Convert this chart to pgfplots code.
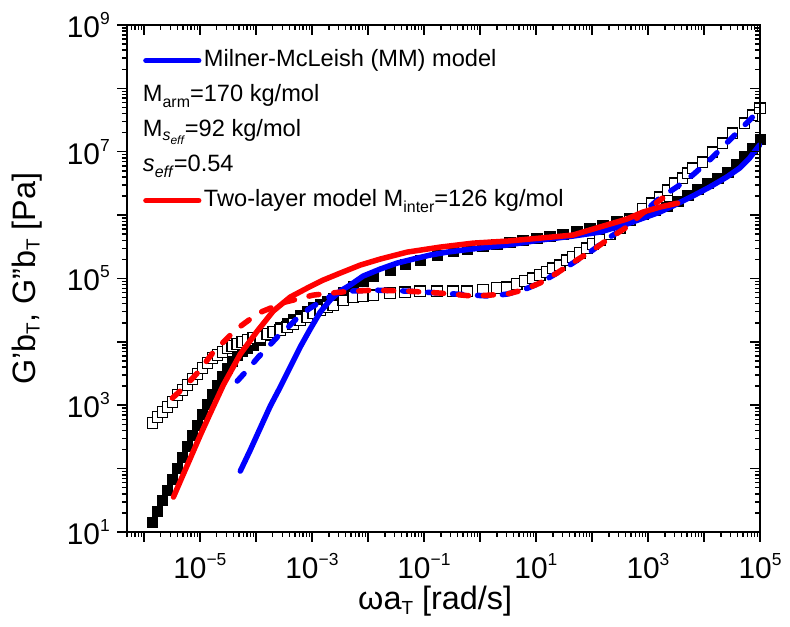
\documentclass[border=0pt]{standalone}
\usepackage{fontspec}
\setmainfont{Liberation Sans}
\usepackage{pgfplots}
\pgfplotsset{compat=1.18}
\newcommand\supx[1]{\raisebox{13bp}{\fontsize{17.5}{17.5}\selectfont #1}}
\newcommand\tlab[1]{\fontsize{30}{30}\selectfont 10\supx{\ifnum#1<0 −\number\numexpr-#1\relax\else#1\fi}}
\newcommand\lsub[1]{\raisebox{-6bp}{\fontsize{16}{16}\selectfont #1}}
\newcommand\lssub[1]{\raisebox{-4bp}{\fontsize{12}{12}\selectfont #1}}
\newcommand\xsub[1]{\raisebox{-4.5bp}{\fontsize{19}{19}\selectfont #1}}
\newcommand\minx{5e-7,6e-7,7e-7,8e-7,9e-7,
      2e-6,3e-6,4e-6,5e-6,6e-6,7e-6,8e-6,9e-6,
      2e-5,3e-5,4e-5,5e-5,6e-5,7e-5,8e-5,9e-5,
      2e-4,3e-4,4e-4,5e-4,6e-4,7e-4,8e-4,9e-4,
      2e-3,3e-3,4e-3,5e-3,6e-3,7e-3,8e-3,9e-3,
      2e-2,3e-2,4e-2,5e-2,6e-2,7e-2,8e-2,9e-2,
      0.2,0.3,0.4,0.5,0.6,0.7,0.8,0.9,
      2,3,4,5,6,7,8,9,
      20,30,40,50,60,70,80,90,
      200,300,400,500,600,700,800,900,
      2e3,3e3,4e3,5e3,6e3,7e3,8e3,9e3,
      2e4,3e4,4e4,5e4,6e4,7e4,8e4,9e4}
\newcommand\miny{20,30,40,50,60,70,80,90,
      200,300,400,500,600,700,800,900,
      2e3,3e3,4e3,5e3,6e3,7e3,8e3,9e3,
      2e4,3e4,4e4,5e4,6e4,7e4,8e4,9e4,
      2e5,3e5,4e5,5e5,6e5,7e5,8e5,9e5,
      2e6,3e6,4e6,5e6,6e6,7e6,8e6,9e6,
      2e7,3e7,4e7,5e7,6e7,7e7,8e7,9e7,
      2e8,3e8,4e8,5e8,6e8,7e8,8e8,9e8}

\pgfplotstableread{
x y
1.422e-6 14.39
1.746e-6 21.4
2.148e-6 32.0
2.636e-6 45.9
3.236e-6 68.5
3.972e-6 102
4.875e-6 152
5.984e-6 227
7.345e-6 339
9.02e-6 487
1.109e-5 727
1.361e-5 1045
1.671e-5 1503
2.051e-5 2084
2.518e-5 2891
3.09e-5 3864
3.793e-5 4977
4.656e-5 6194
5.72e-5 7161
7.03e-5 7980
8.99e-5 8913
1.197e-4 10670
1.596e-4 12790
2.042e-4 14790
2.723e-4 17100
3.631e-4 19820
4.645e-4 22910
6.18e-4 26490
8.24e-4 30620
1.054e-3 35400
1.406e-3 39450
1.875e-3 44060
2.399e-3 49090
3.614e-3 60950
5.445e-3 75860
8.2e-3 90990
1.239e-2 109100
2.489e-2 135500
4.603e-2 168700
8.51e-2 195000
0.1712 233900
0.3304 270400
0.5865 291100
1.131 324300
2.009 349100
3.426 374900
5.842 403600
10.38 433600
17.7 466700
30.2 501200
53.6 559800
91.4 623700
156 695000
277 803500
472 897400
805 1.038e6
1316 1.2e6
2153 1.387e6
3381 1.663e6
5105 2.065e6
7691 2.570e6
1.159e4 3.199e6
1.747e4 3.837e6
2.636e4 4.764e6
3.811e4 6.368e6
5.297e4 8.531e6
7.35e4 1.140e7
1.0e5 1.581e7
}\Gp

\pgfplotstableread{
x y
1.422e-6 524
1.746e-6 651
2.148e-6 781
2.636e-6 937
3.236e-6 1122
3.972e-6 1449
4.875e-6 1738
5.984e-6 2084
7.345e-6 2588
9.02e-6 3105
1.109e-5 3864
1.361e-5 4634
1.671e-5 5546
2.051e-5 6194
2.518e-5 6902
3.09e-5 7980
3.793e-5 8590
4.656e-5 9226
5.72e-5 9931
7.03e-5 10670
8.99e-5 11480
1.197e-4 11910
1.596e-4 13270
2.042e-4 14290
2.723e-4 15350
3.631e-4 17100
4.645e-4 19100
6.18e-4 22080
8.24e-4 24600
1.054e-3 28440
1.406e-3 31770
1.875e-3 35400
2.399e-3 38020
3.614e-3 45600
5.445e-3 50930
8.2e-3 52720
1.239e-2 54700
2.489e-2 58880
4.603e-2 60950
8.51e-2 63240
0.1712 63240
0.3304 63240
0.5865 63240
1.131 65610
2.009 70630
3.027 73110
4.566 81660
6.34 90990
8.806 101400
11.74 113200
15.64 126200
20.0 145900
26.67 162600
35.56 195000
45.5 217800
60.6 251800
80.8 301300
103.3 349100
137.7 403600
207.5 501200
313.1 623700
472 833700
805 1.245e6
1164 1.545e6
1618 1.923e6
2244 2.478e6
2992 3.199e6
4156 3.837e6
5105 4.592e6
6266 5.51e6
9441 6.855e6
1.423e4 9.86e6
2.147e4 1.368e7
3.236e4 1.963e7
5.297e4 2.825e7
7.35e4 3.776e7
1.0e5 4.875e7
}\Gpp

\pgfplotstableread{
x y
5.272e-5 91.6
7.943e-5 196.4
1.197e-4 436.5
1.807e-4 971
2.723e-4 1936
4.102e-4 4009
6.18e-4 8279
9.33e-4 15920
1.406e-3 29510
2.119e-3 45600
3.194e-3 63240
4.815e-3 78700
8.2e-3 109100
1.649e-2 140600
3.313e-2 175000
6.39e-2 202300
0.1285 233900
0.2582 260600
0.4977 280500
1 301300
3.027 336500
11.74 403600
45.5 466700
137.7 539500
417 721100
1618 1.114e6
3251 1.493e6
6266 1.995e6
1.259e4 2.767e6
2.529e4 3.972e6
4.315e4 5.51e6
6.501e4 7.925e6
9.79e4 1.271e7
}\MMp

\pgfplotstableread{
x y
4.656e-5 2410
7.03e-5 3589
1.104e-4 5754
1.472e-4 7430
2.406e-4 11910
3.631e-4 16520
6.18e-4 26490
9.33e-4 34120
1.726e-3 47320
2.825e-3 58880
4.815e-3 63240
1.239e-2 65610
5.0e-2 63240
0.1936 58880
0.750 54700
1.507 52720
3.027 56750
5.842 65610
11.74 84550
23.6 121600
45.5 175000
103.3 280500
207.5 449800
417 647100
805 1.076e6
1618 1.854e6
3251 2.767e6
6266 4.276e6
1.259e4 7.375e6
2.529e4 1.368e7
4.875e4 2.443e7
9.79e4 4.529e7
}\MMpp

\pgfplotstableread{
x y
3.373e-6 35.6
4.487e-6 63.7
6.776e-6 146.9
1.021e-5 339
1.539e-5 753
2.624e-5 2084
5.272e-5 6427
1.059e-4 14790
2.042e-4 30620
4.102e-4 50930
8.24e-4 70630
1.589e-3 94400
3.194e-3 121600
7.261e-3 162600
1.649e-2 202300
5.0e-2 260600
0.1936 312600
0.750 361400
3.027 389000
11.74 433600
45.5 484200
103.3 601200
417 864900
805 1.114e6
1618 1.337e6
3381 1.545e6
}\TLp

\pgfplotstableread{
x y
3.236e-6 1300
5.082e-6 1866
9.02e-6 3221
1.742e-5 6902
4.295e-5 15350
1.104e-4 28440
3.342e-4 42460
1.054e-3 54700
3.194e-3 60950
1.239e-2 65610
5.0e-2 63240
0.1936 58880
0.750 52720
3.027 56750
5.842 65610
11.74 84550
23.6 121600
53.6 195000
103.3 280500
207.5 433600
417 647100
805 1.076e6
1828 1.854e6
}\TLpp

\begin{document}
\begin{tikzpicture}
\useasboundingbox (-127bp,-95bp) rectangle (663bp,532bp);
\begin{axis}[
  at={(0,0)}, anchor=south west, width=633bp, height=507bp, scale only axis,
  xmode=log, ymode=log, xmin=5e-7, xmax=1e5, ymin=10, ymax=1e9,
  xtick={1e-6,1e-5,1e-4,1e-3,1e-2,1e-1,1,10,100,1e3,1e4,1e5},
  ytick={1e1,1e2,1e3,1e4,1e5,1e6,1e7,1e8,1e9},
  minor xtick/.expanded={\minx}, minor ytick/.expanded={\miny},
  major tick length=10bp, minor tick length=5bp,
  every tick/.style={black, line width=1.5bp},
  axis line style={line width=2bp},
  tick align=outside, xtick pos=left, ytick pos=left,
  clip=false, clip marker paths=true,
  xticklabel={\pgfmathtruncatemacro\myexp{round(\tick/2.302585093)}\ifodd\myexp\relax\tlab{\myexp}\fi},
  yticklabel={\pgfmathtruncatemacro\myexp{round(\tick/2.302585093)}\ifodd\myexp\relax\tlab{\myexp}\fi},
  xticklabel style={inner sep=0pt, yshift=-11bp},
  yticklabel style={inner sep=0pt, xshift=-7bp},
  xlabel={\fontsize{32.5}{32.5}\selectfont ωa\xsub{T} [rad/s]},
  ylabel={\fontsize{32.5}{32.5}\selectfont G\symbol{39}b\xsub{T}, G\symbol{34}b\xsub{T} [Pa]},
  xlabel style={at={(axis description cs:0.365,-0.1538)}, anchor=base west, inner sep=0pt},
  ylabel style={at={(axis description cs:-0.1453,0.5)}, anchor=base, inner sep=0pt},
  legend style={at={(axis description cs:0.0253,0.9527)}, anchor=north west, draw=none, fill=none,
    inner sep=0pt, row sep=12bp, column sep=0bp, font=\fontsize{23.7}{23.7}\selectfont,
    nodes={inner ysep=1bp, inner xsep=2.5bp, text height=16bp, text depth=5bp}},
  legend cell align=left,
  legend image code/.code={\draw[#1] (2.75bp,0bp) -- (55.5bp,0bp);},
]
\addplot[forget plot, only marks, mark=square*, mark size=5.2bp, mark options={fill=black, draw=black, line width=0.5bp}] table[x=x,y=y] {\Gp};
\addplot[forget plot, only marks, mark=square*, mark size=5.2bp, mark options={fill=white, draw=black, line width=1.2bp}] table[x=x,y=y] {\Gpp};
\addplot[forget plot, blue, line width=5.5bp, line cap=round, line join=round] table[x=x,y=y] {\MMp};
\addplot[forget plot, blue, line width=5.5bp, line cap=round, line join=round, dash pattern=on 10bp off 15bp] table[x=x,y=y] {\MMpp};
\addplot[forget plot, red, line width=5.5bp, line cap=round, line join=round] table[x=x,y=y] {\TLp};
\addplot[forget plot, red, line width=5.5bp, line cap=round, line join=round, dash pattern=on 10bp off 15bp] table[x=x,y=y] {\TLpp};
\addlegendimage{blue, line width=5.5bp, line cap=round}
\addlegendentry{Milner-McLeish (MM) model}
\addlegendimage{empty legend}
\addlegendentry{\hspace*{-61bp}M\lsub{arm}=170 kg/mol}
\addlegendimage{empty legend}
\addlegendentry{\hspace*{-61bp}M\raisebox{-4bp}{\fontsize{16}{16}\selectfont\textit{s}\lssub{\textit{eff}}}=92 kg/mol}
\addlegendimage{empty legend}
\addlegendentry{\hspace*{-61bp}\textit{s}\lsub{\textit{eff}}=0.54}
\addlegendimage{red, line width=5.5bp, line cap=round}
\addlegendentry{Two-layer model M\lsub{inter}=126 kg/mol}
\end{axis}
\begin{axis}[
  at={(0,0)}, anchor=south west, width=633bp, height=507bp, scale only axis,
  xmode=log, ymode=log, xmin=5e-7, xmax=1e5, ymin=10, ymax=1e9,
  xtick={1e-6,1e-5,1e-4,1e-3,1e-2,1e-1,1,10,100,1e3,1e4,1e5},
  ytick={1e1,1e2,1e3,1e4,1e5,1e6,1e7,1e8,1e9},
  minor xtick/.expanded={\minx}, minor ytick/.expanded={\miny},
  major tick length=10bp, minor tick length=5bp,
  every tick/.style={black, line width=1.5bp},
  axis line style={line width=2bp},
  tick align=inside, xtick pos=right, ytick pos=right,
  xticklabel={\mbox{}}, yticklabel={\mbox{}},
]
\end{axis}
\end{tikzpicture}
\end{document}
